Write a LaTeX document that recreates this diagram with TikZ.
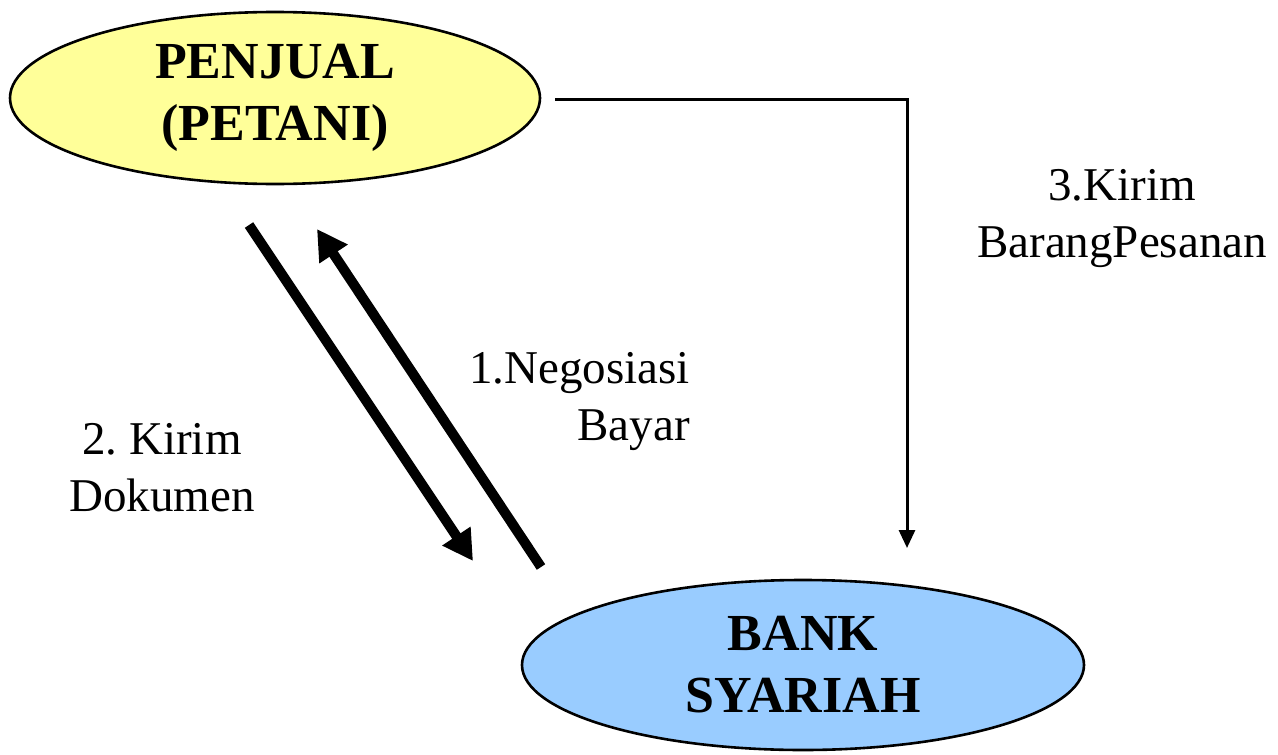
\documentclass[tikz,border=0pt]{standalone}
\usepackage{fontspec}
\setmainfont{Liberation Serif}
\usetikzlibrary{arrows.meta,shapes.geometric}
\frenchspacing
\definecolor{sellerfill}{HTML}{FFFF99}
\definecolor{bankfill}{HTML}{99CCFF}
\tikzset{
  party/.style={ellipse, draw=black, line width=2.6pt, inner sep=0pt,
    font=\fontsize{52}{62}\selectfont\bfseries, align=center},
  flowthick/.style={line width=10pt, -{Triangle[length=30pt,width=32pt]}},
  flowthin/.style={line width=3pt, -{Triangle[length=18pt,width=16pt]}},
  lbl/.style={font=\fontsize{47}{57}\selectfont, inner sep=0pt}
}
\begin{document}
\begin{tikzpicture}[x=1pt,y=-1pt]
\useasboundingbox (0,0) rectangle (1278,755);
% parties
\node[party, fill=sellerfill, minimum width=530pt, minimum height=172pt] (seller) at (275,98) {PENJUAL\\(PETANI)};
\node[party, fill=bankfill, minimum width=562pt, minimum height=170pt] (bank) at (803,665) {BANK\\SYARIAH};
% arrow end points
\coordinate (docA) at (249,225);
\coordinate (docB) at (473,561);
\coordinate (negA) at (541,567);
\coordinate (negB) at (317,229);
\coordinate (goodsA) at (555,99);
\coordinate (goodsC) at (907,99);
\coordinate (goodsB) at (907,548);
% flows
\draw[flowthick] (docA) -- (docB);
\draw[flowthick] (negA) -- (negB);
\draw[flowthin] (goodsA) -- (goodsC) -- (goodsB);
% labels
\node[lbl, align=center] (lblDoc) at (162,468) {2. Kirim\\Dokumen};
\node[lbl, align=right, anchor=east] (lblNeg) at (690,402) {1.Negosiasi\\Bayar};
\node[lbl, align=center] (lblGoods) at (1122,219) {3.Kirim\\BarangPesanan};
\end{tikzpicture}
\end{document}
